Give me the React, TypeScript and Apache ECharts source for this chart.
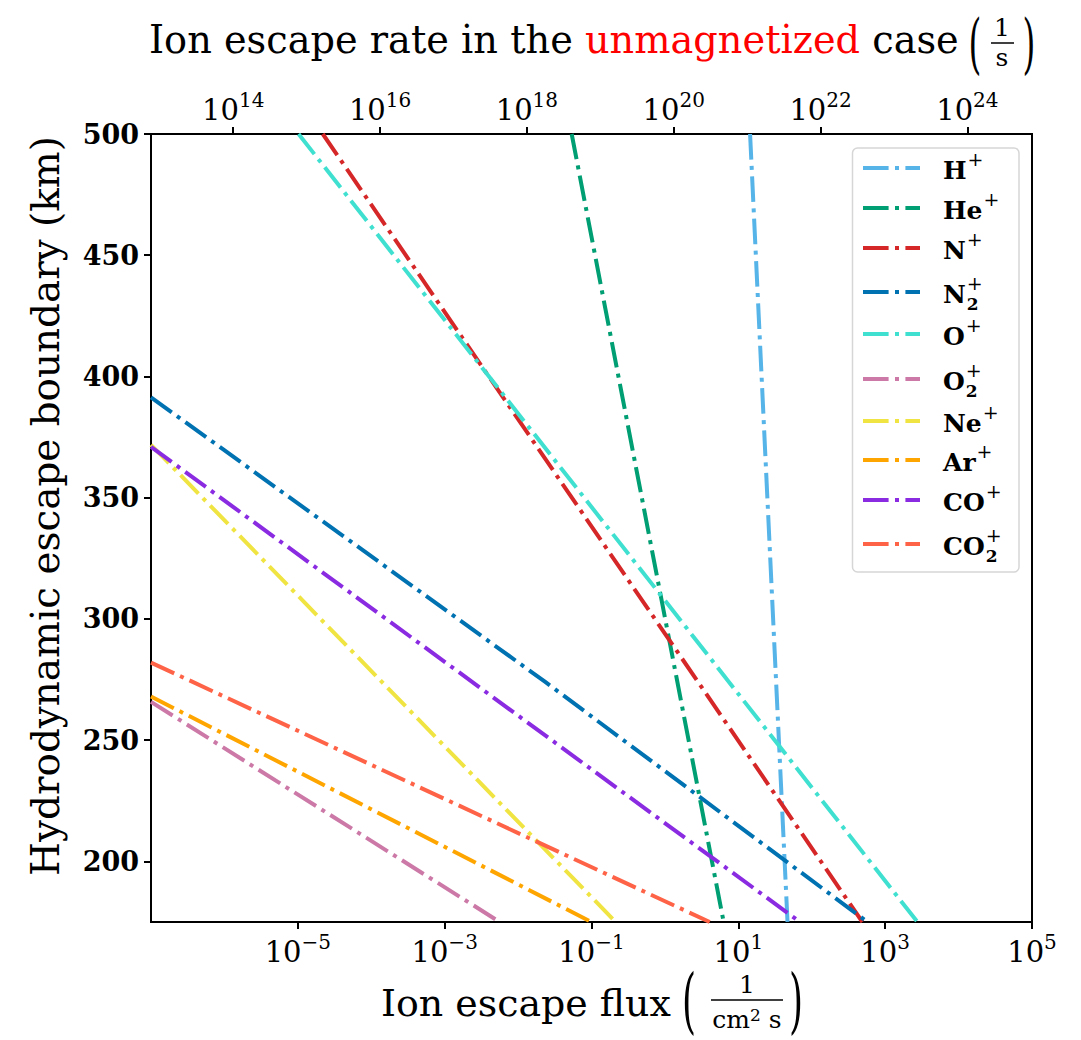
import React, { useEffect, useRef } from "react";
import * as echarts from "echarts";

// ---------- data (log10 of ion escape flux in 1/(cm^2 s), altitude in km) ----------
const ionNames = ["H+", "He+", "N+", "N2+", "O+", "O2+", "Ne+", "Ar+", "CO+", "CO2+"];
const ionBase = ["H", "He", "N", "N", "O", "O", "Ne", "Ar", "CO", "CO"];
const ionSub = ["", "", "", "2", "", "2", "", "", "", "2"];
const ionColors = ["#56B4E9", "#009E73", "#D62728", "#0072B2", "#40E0D0", "#CC79A7", "#F0E442", "#FFA500", "#8A2BE2", "#FF6347"];

const hLogFlux = [1.16, 1.67];
const hAltitude = [500, 175];
const heLogFlux = [-1.27, 0.8];
const heAltitude = [500, 175];
const nLogFlux = [-4.66, 2.69];
const nAltitude = [500, 175];
const n2LogFlux = [-7, -1.63, 2.76];
const n2Altitude = [391.4, 274, 175];
const oLogFlux = [-4.99, 3.44];
const oAltitude = [500, 175];
const o2LogFlux = [-7, -2.25];
const o2Altitude = [265.8, 175];
const neLogFlux = [-7, -0.67];
const neAltitude = [371.8, 175];
const arLogFlux = [-7, -1.0];
const arAltitude = [268, 175];
const coLogFlux = [-7, 1.84];
const coAltitude = [371, 175];
const co2LogFlux = [-7, 0.61];
const co2Altitude = [282, 175];

const fluxSeries = [hLogFlux, heLogFlux, nLogFlux, n2LogFlux, oLogFlux, o2LogFlux, neLogFlux, arLogFlux, coLogFlux, co2LogFlux];
const altitudeSeries = [hAltitude, heAltitude, nAltitude, n2Altitude, oAltitude, o2Altitude, neAltitude, arAltitude, coAltitude, co2Altitude];

const fluxLogRange = [-7, 5];
const rateLogOffset = 19.88; // log10 of escape rate minus log10 of flux
const altitudeRange = [175, 500];
const bottomTickExponents = [-5, -3, -1, 1, 3, 5];
const topTickExponents = [14, 16, 18, 20, 22, 24];
const altitudeTicks = [200, 250, 300, 350, 400, 450, 500];

// ---------- layout ----------
const FONT = '"DejaVu Serif"';
const legendRowY = [168, 208, 248, 292, 334, 379, 421, 460, 500, 544];

const ctx = typeof document !== "undefined" ? document.createElement("canvas").getContext("2d") : null;
function textWidth(text: string, size: number, weight = "normal") {
  if (!ctx) return text.length * size * 0.55;
  ctx.font = `${weight} ${size}px ${FONT}`;
  return ctx.measureText(text).width;
}
function fitSize(text: string, target: number, weight = "normal") {
  return (100 * target) / textWidth(text, 100, weight);
}

const supMinus = (n: number) => (n < 0 ? "\u2212" + Math.abs(n) : String(n));

export default function App() {
  const ref = useRef<HTMLDivElement>(null);
  useEffect(() => {
    if (!ref.current) return;
    const chart = echarts.init(ref.current, undefined, { renderer: "svg" });

    const tickRich = {
      b: { fontFamily: FONT, fontSize: 29, color: "#000", verticalAlign: "bottom" },
      s: { fontFamily: FONT, fontSize: 20, color: "#000", verticalAlign: "top", padding: [0, 0, 14, 0] },
    };

    const series = ionNames.map((name, i) => ({
      type: "line",
      name,
      xAxisIndex: 0,
      yAxisIndex: 0,
      data: fluxSeries[i].map((v, j) => [v, altitudeSeries[i][j]]),
      symbol: "none",
      showSymbol: false,
      silent: true,
      clip: true,
      itemStyle: { color: ionColors[i] },
      lineStyle: { color: ionColors[i], width: 4, type: [25.6, 6.4, 4, 6.4], cap: "butt" },
    }));

    // ---------- graphic: titles, fractions, legend ----------
    const graphic: any[] = [];
    const titlePart1 = "Ion escape rate in the ";
    const titlePart2 = "unmagnetized";
    const titlePart3 = " case";
    const titleSize = fitSize(titlePart1 + titlePart2 + titlePart3, 810);
    graphic.push({
      type: "text",
      x: 149,
      y: 39,
      style: {
        text: `{a|${titlePart1}}{r|${titlePart2}}{a|${titlePart3}}`,
        verticalAlign: "middle",
        align: "left",
        rich: {
          a: { fill: "#000", fontSize: titleSize, fontFamily: FONT },
          r: { fill: "#ff0000", fontSize: titleSize, fontFamily: FONT },
        },
      },
    });
    const paren = (ch: string, x: number, y: number, size: number, sy: number) => ({
      type: "text",
      x,
      y,
      scaleY: sy,
      style: { text: ch, fill: "#000", fontSize: size, fontFamily: FONT, align: "center", verticalAlign: "middle" },
    });
    // title fraction 1/s
    graphic.push(paren("(", 975, 43, 33, 2.0));
    graphic.push(paren(")", 1029, 43, 33, 2.0));
    graphic.push({ type: "text", x: 1002, y: 27, style: { text: "1", fill: "#000", fontSize: 25, fontFamily: FONT, align: "center", verticalAlign: "middle" } });
    graphic.push({ type: "line", shape: { x1: 991, y1: 43, x2: 1014, y2: 43 }, style: { stroke: "#000", lineWidth: 1.5 } });
    graphic.push({ type: "text", x: 1002, y: 57, style: { text: "s", fill: "#000", fontSize: 25, fontFamily: FONT, align: "center", verticalAlign: "middle" } });

    // x axis title
    const xName = "Ion escape flux";
    const xNameSize = fitSize(xName, 290);
    graphic.push({ type: "text", x: 381, y: 1003, style: { text: xName, fill: "#000", fontSize: xNameSize, fontFamily: FONT, align: "left", verticalAlign: "middle" } });
    graphic.push(paren("(", 689, 1000, 36, 1.95));
    graphic.push(paren(")", 796, 1000, 36, 1.95));
    graphic.push({ type: "text", x: 747, y: 984, style: { text: "1", fill: "#000", fontSize: 25, fontFamily: FONT, align: "center", verticalAlign: "middle" } });
    graphic.push({ type: "line", shape: { x1: 711, y1: 1000, x2: 783, y2: 1000 }, style: { stroke: "#000", lineWidth: 1.5 } });
    graphic.push({
      type: "text",
      x: 747,
      y: 1019,
      style: {
        text: "{n|cm}{s|2}{n| s}",
        align: "center",
        verticalAlign: "middle",
        rich: {
          n: { fill: "#000", fontSize: 25, fontFamily: FONT, verticalAlign: "bottom" },
          s: { fill: "#000", fontSize: 17, fontFamily: FONT, verticalAlign: "top", padding: [0, 0, 9, 0] },
        },
      },
    });

    // y axis title
    const yName = "Hydrodynamic escape boundary (km)";
    const yNameSize = fitSize(yName, 740);
    graphic.push({
      type: "text",
      x: 45,
      y: 506,
      rotation: Math.PI / 2,
      style: { text: yName, fill: "#000", fontSize: yNameSize, fontFamily: FONT, align: "center", verticalAlign: "middle" },
    });

    // legend
    graphic.push({
      type: "rect",
      z: 100,
      shape: { x: 852.5, y: 148, width: 166.5, height: 424, r: 5 },
      style: { fill: "rgba(255,255,255,0.85)", stroke: "#d6d6d6", lineWidth: 1.5 },
    });
    ionNames.forEach((name, i) => {
      const y = legendRowY[i];
      graphic.push({
        type: "line",
        z: 101,
        shape: { x1: 863, y1: y, x2: 920, y2: y },
        style: { stroke: ionColors[i], lineWidth: 4, lineDash: [25.6, 6.4, 4, 6.4], lineCap: "butt" },
      });
      const baseSize = 25;
      const tx = 943;
      const ty = y + 2;
      graphic.push({
        type: "text",
        z: 101,
        x: tx,
        y: ty,
        style: { text: ionBase[i], fill: "#000", fontSize: baseSize, fontWeight: "bold", fontFamily: FONT, align: "left", verticalAlign: "middle" },
      });
      const bw = textWidth(ionBase[i], baseSize, "bold");
      graphic.push({
        type: "text",
        z: 101,
        x: tx + bw + 1,
        y: ty - 11,
        style: { text: "+", fill: "#000", fontSize: 19, fontFamily: FONT, align: "left", verticalAlign: "middle" },
      });
      if (ionSub[i]) {
        graphic.push({
          type: "text",
          z: 101,
          x: tx + bw + 1,
          y: ty + 10,
          style: { text: ionSub[i], fill: "#000", fontSize: 17, fontWeight: "bold", fontFamily: FONT, align: "left", verticalAlign: "middle" },
        });
      }
    });

    const axisLine = { show: true, onZero: false, lineStyle: { color: "#000", width: 2 } };
    const axisTickBase = { show: true, inside: false, length: 7, lineStyle: { color: "#000", width: 2 } };

    chart.setOption({
      animation: false,
      backgroundColor: "#fff",
      grid: { left: 151, top: 134, width: 881, height: 788, show: true, borderColor: "#000", borderWidth: 2, backgroundColor: "transparent", containLabel: false },
      xAxis: [
        {
          type: "value",
          position: "bottom",
          min: fluxLogRange[0],
          max: fluxLogRange[1],
          axisLine,
          axisTick: { ...axisTickBase, customValues: bottomTickExponents },
          splitLine: { show: false },
          axisLabel: {
            customValues: bottomTickExponents,
            margin: 10,
            formatter: (v: number) => `{b|10}{s|${supMinus(v)}}`,
            rich: tickRich,
          },
        },
        {
          type: "value",
          position: "top",
          min: fluxLogRange[0] + rateLogOffset,
          max: fluxLogRange[1] + rateLogOffset,
          axisLine,
          axisTick: { ...axisTickBase, customValues: topTickExponents },
          splitLine: { show: false },
          axisLabel: {
            customValues: topTickExponents,
            margin: 10,
            formatter: (v: number) => `{b|10}{s|${supMinus(v)}}`,
            rich: tickRich,
          },
        },
      ],
      yAxis: {
        type: "value",
        min: altitudeRange[0],
        max: altitudeRange[1],
        axisLine,
        axisTick: { ...axisTickBase, customValues: altitudeTicks },
        splitLine: { show: false },
        axisLabel: {
          customValues: altitudeTicks,
          margin: 12,
          color: "#000",
          fontFamily: FONT,
          fontWeight: "bold",
          fontSize: 27,
        },
      },
      legend: { show: false },
      graphic,
      series,
    });

    return () => chart.dispose();
  }, []);

  return <div ref={ref} style={{ position: "fixed", left: 0, top: 0, width: 1081, height: 1040, background: "#fff" }} />;
}
